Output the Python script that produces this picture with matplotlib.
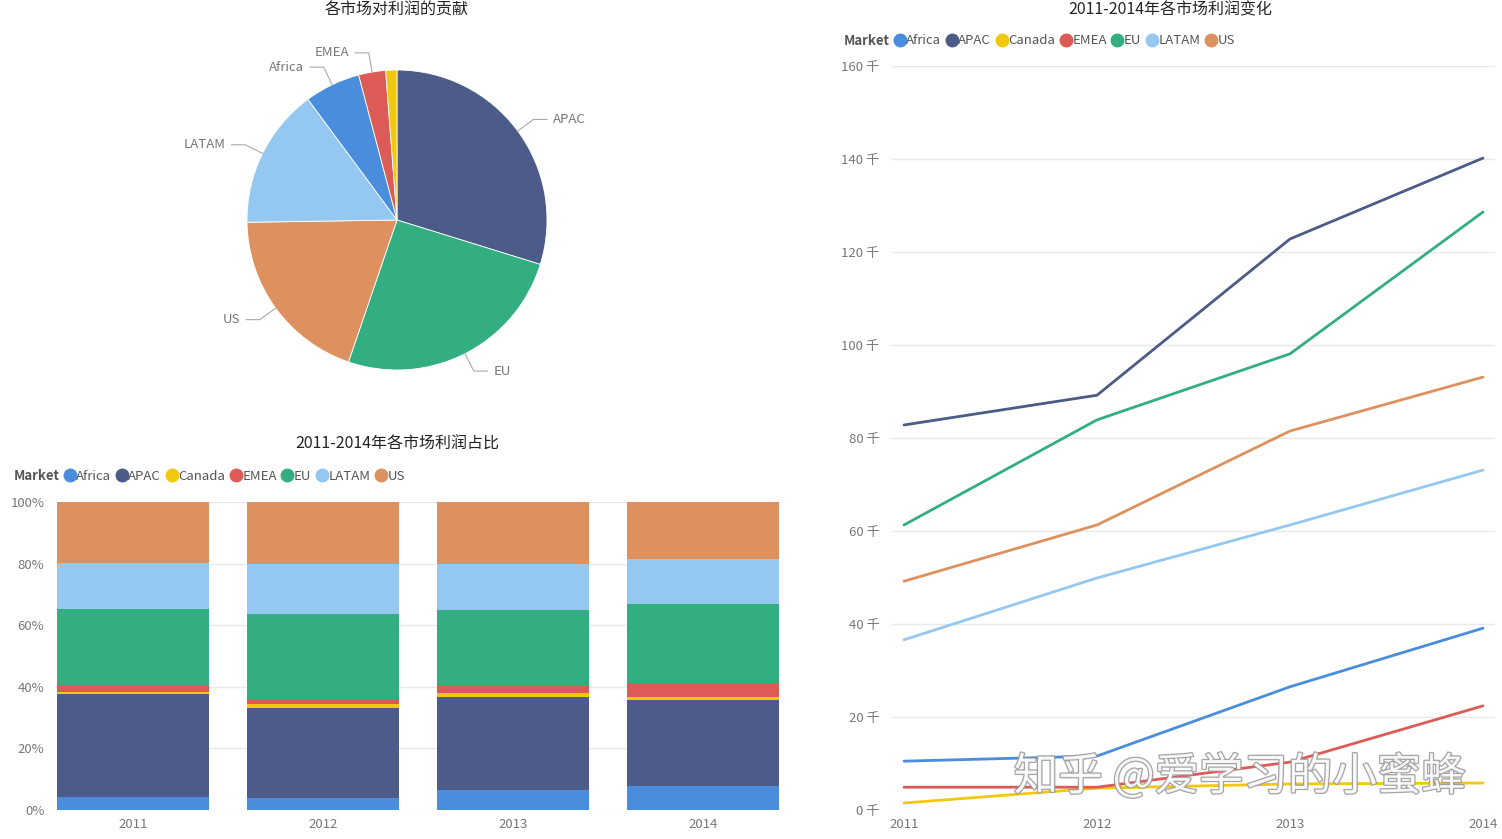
import numpy as np
import matplotlib
matplotlib.use("Agg")
import matplotlib.pyplot as plt
from matplotlib.lines import Line2D
import matplotlib.patheffects as pe

plt.rcParams['font.family'] = ['Noto Sans CJK SC', 'DejaVu Sans']

# ---------------- data ----------------
years = [2011, 2012, 2013, 2014]
markets = ["Africa", "APAC", "Canada", "EMEA", "EU", "LATAM", "US"]
# profit in thousands
africa = [10.5, 11.6, 26.5, 39.1]
apac = [82.8, 89.2, 122.8, 140.2]
canada = [1.5, 4.7, 5.6, 5.8]
emea = [4.9, 4.9, 10.3, 22.4]
eu = [61.3, 83.9, 98.1, 128.6]
latam = [36.6, 49.9, 61.3, 73.1]
us = [49.2, 61.3, 81.5, 93.1]

colors = {"Africa": "#4A8DDC", "APAC": "#4C5B87", "Canada": "#F2C80F",
          "EMEA": "#DC5B57", "EU": "#33AE81", "LATAM": "#95C8F0", "US": "#DD915F"}

series = {"Africa": africa, "APAC": apac, "Canada": canada, "EMEA": emea,
          "EU": eu, "LATAM": latam, "US": us}

y_ticks = [0, 20, 40, 60, 80, 100, 120, 140, 160]
pct_ticks = [0, 0.2, 0.4, 0.6, 0.8, 1.0]

W, H = 1502, 839
fig = plt.figure(figsize=(W / 100, H / 100), dpi=100)
fig.patch.set_facecolor("white")

def px_axes(x0, y0, x1, y1):
    return fig.add_axes([x0 / W, 1 - y1 / H, (x1 - x0) / W, (y1 - y0) / H])

TICK_C = "#777777"
TITLE_C = "#252423"
GRID_C = "#E9E9E9"

# ---------------- pie ----------------
totals = {m: sum(v) for m, v in series.items()}
pie_order = sorted(markets, key=lambda m: -totals[m])
pie_vals = [totals[m] for m in pie_order]
axp = px_axes(197, 20, 597, 420)
wedges, _ = axp.pie(pie_vals, colors=[colors[m] for m in pie_order], startangle=90,
                    counterclock=False, radius=1.0,
                    wedgeprops=dict(edgecolor="white", linewidth=0.6))
axp.set_xlim(-4 / 3, 4 / 3)
axp.set_ylim(-4 / 3, 4 / 3)
axp.set_aspect("equal")
axp.axis("off")
for w, m in zip(wedges, pie_order):
    if m == "Canada":
        continue
    ang = np.deg2rad((w.theta1 + w.theta2) / 2)
    c, s = np.cos(ang), np.sin(ang)
    p1 = (1.0 * c, 1.0 * s)
    p2 = (1.13 * c, 1.13 * s)
    side = 1 if c >= 0 else -1
    p3 = (p2[0] + side * 0.09, p2[1])
    axp.plot([p1[0], p2[0], p3[0]], [p1[1], p2[1], p3[1]], color="#AAAAAA", lw=0.8,
             clip_on=False)
    axp.text(p3[0] + side * 0.04, p3[1], m, ha="left" if side > 0 else "right",
             va="center", fontsize=9.5, color=TICK_C)

fig.text(397 / W, 1 - 10 / H, "各市场对利润的贡献", ha="center", va="center",
         fontsize=11.5, color=TITLE_C)

# ---------------- stacked 100% bar ----------------
axb = px_axes(57, 502, 779, 810)
x = np.arange(len(years))
tot_year = np.sum([series[m] for m in markets], axis=0)
bottom = np.zeros(len(years))
for m in markets:
    frac = np.array(series[m]) / tot_year
    axb.bar(x, frac, bottom=bottom, width=0.795, color=colors[m], zorder=2)
    bottom += frac
axb.set_xlim(-0.4, 3.4)
axb.set_ylim(0, 1)
axb.set_yticks(pct_ticks)
axb.set_yticklabels([f"{int(round(t * 100))}%" for t in pct_ticks])
axb.set_xticks(x)
axb.set_xticklabels([str(y) for y in years])
axb.tick_params(length=0, labelsize=9.5, labelcolor=TICK_C)
axb.tick_params(axis="y", pad=9)
axb.tick_params(axis="x", pad=5.5)
for sp in axb.spines.values():
    sp.set_visible(False)
axb.grid(axis="y", color=GRID_C, lw=1, zorder=0)
axb.set_axisbelow(True)

fig.text(397 / W, 1 - 444 / H, "2011-2014年各市场利润占比", ha="center", va="center",
         fontsize=11.5, color=TITLE_C)

def legend_at(xm, y):
    fig.text(xm / W, 1 - y / H, "Market", ha="left", va="center", fontsize=9.5,
             color="#555555", fontweight="bold")
    handles = [Line2D([], [], ls="none", marker="o", markersize=9,
                      markerfacecolor=colors[m], markeredgecolor=colors[m]) for m in markets]
    fig.legend(handles, markets, loc="center left",
               bbox_to_anchor=((xm + 51) / W, 1 - y / H), ncol=7, frameon=False,
               fontsize=9.5, handlelength=0.7, handletextpad=0.15, columnspacing=0.45,
               borderpad=0, borderaxespad=0, labelcolor="#555555")

legend_at(14, 476)

# ---------------- line chart ----------------
axl = px_axes(892, 66, 1495, 810)
for m in markets:
    axl.plot(years, series[m], color=colors[m], lw=2, solid_capstyle="round", zorder=3)
axl.set_xlim(2011 - 12 / 193, 2014 + 12 / 193)
axl.set_ylim(0, 160)
axl.set_yticks(y_ticks)
axl.set_yticklabels([f"{t} 千" for t in y_ticks])
axl.set_xticks(years)
axl.set_xticklabels([str(y) for y in years])
axl.tick_params(length=0, labelsize=9.5, labelcolor=TICK_C)
axl.tick_params(axis="y", pad=9)
axl.tick_params(axis="x", pad=5.5)
for sp in axl.spines.values():
    sp.set_visible(False)
axl.grid(axis="y", color=GRID_C, lw=1, zorder=0)
axl.set_axisbelow(True)

fig.text(1170 / W, 1 - 10 / H, "2011-2014年各市场利润变化", ha="center", va="center",
         fontsize=11.5, color=TITLE_C)
legend_at(844, 41)

# watermark
fig.text(1240 / W, 1 - 777 / H, "知乎 @爱学习的小蜜蜂", ha="center", va="center",
         fontsize=32, color="white", alpha=0.9, zorder=10,
         path_effects=[pe.withStroke(linewidth=1.8, foreground="#9A9A9A")])

fig.savefig("out.png", dpi=100, facecolor="white")
